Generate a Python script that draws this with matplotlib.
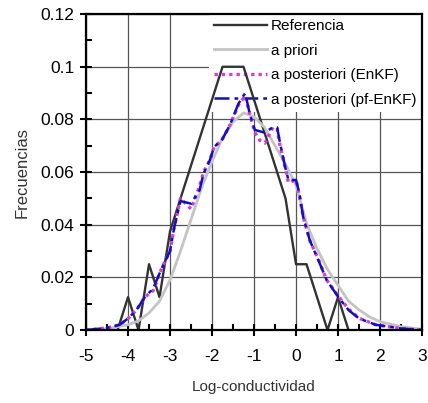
import matplotlib
matplotlib.use("Agg")
from matplotlib import pyplot as plt
from matplotlib.ticker import MultipleLocator

plt.rcParams['font.family'] = ['Liberation Sans', 'DejaVu Sans']
plt.rcParams['axes.unicode_minus'] = False

# datos: referencia (histograma)
x_ref = [-4.25, -4.0, -3.75, -3.5, -3.25, -3.0, -2.75, -2.5, -2.25, -2.0, -1.75, -1.5, -1.25,
         -1.0, -0.75, -0.5, -0.25, 0.0, 0.25, 0.5, 0.75, 1.0, 1.25]
y_ref = [0, 0.0125, 0, 0.025, 0.0125, 0.0375, 0.05, 0.0625, 0.075, 0.0875, 0.1, 0.1, 0.1,
         0.0875, 0.075, 0.0625, 0.05, 0.025, 0.025, 0.0125, 0, 0.0125, 0]

# a priori
x_pri = [-5.0, -4.5, -4.0, -3.75, -3.5, -3.25, -3.0, -2.75, -2.5, -2.25, -2.0, -1.75, -1.5, -1.25,
         -1.0, -0.75, -0.5, -0.25, 0.0, 0.25, 0.5, 0.75, 1.0, 1.25, 1.5, 1.75, 2.0, 2.5, 3.0]
y_pri = [0.0, 0.0005, 0.002, 0.0035, 0.0065, 0.011, 0.019, 0.030, 0.042, 0.054, 0.064, 0.073, 0.079, 0.0825,
         0.081, 0.077, 0.070, 0.063, 0.055, 0.0405, 0.031, 0.023, 0.017, 0.011, 0.0077, 0.005, 0.0032, 0.0013, 0.0003]

# a posteriori (EnKF)
x_enkf = [-5.0, -4.5, -4.2, -4.0, -3.8, -3.6, -3.4, -3.2, -3.0, -2.9, -2.75, -2.5, -2.3, -2.2, -2.05, -1.95,
          -1.77, -1.57, -1.37, -1.21, -1.1, -0.98, -0.86, -0.74, -0.55, -0.45, -0.38, -0.26, -0.18, 0.0, 0.08,
          0.17, 0.33, 0.53, 0.73, 1.0, 1.25, 1.5, 1.9, 2.5, 3.0]
y_enkf = [0, 0.0008, 0.002, 0.0044, 0.0076, 0.0125, 0.015, 0.0234, 0.030, 0.039, 0.050, 0.046, 0.0545, 0.060,
          0.0646, 0.0696, 0.072, 0.078, 0.0855, 0.089, 0.082, 0.075, 0.072, 0.071, 0.077, 0.0765, 0.070, 0.062,
          0.056, 0.057, 0.051, 0.043, 0.034, 0.027, 0.019, 0.013, 0.008, 0.0045, 0.002, 0.0006, 0.0]

# a posteriori (pf-EnKF)
x_pf = [-5.0, -4.5, -4.2, -4.0, -3.8, -3.6, -3.4, -3.2, -3.0, -2.9, -2.75, -2.5, -2.3, -2.2, -2.05, -1.95,
        -1.77, -1.57, -1.37, -1.21, -1.1, -0.98, -0.75, -0.55, -0.45, -0.38, -0.26, -0.18, 0.0, 0.08,
        0.17, 0.33, 0.53, 0.73, 1.0, 1.25, 1.5, 1.9, 2.5, 3.0]
y_pf = [0, 0.0008, 0.002, 0.0044, 0.0076, 0.0125, 0.0158, 0.0234, 0.030, 0.039, 0.049, 0.048, 0.053, 0.0595,
        0.0646, 0.0696, 0.072, 0.078, 0.086, 0.090, 0.082, 0.076, 0.075, 0.077, 0.077, 0.071, 0.062,
        0.057, 0.057, 0.052, 0.043, 0.034, 0.0266, 0.019, 0.0127, 0.0076, 0.0044, 0.002, 0.0006, 0.0]

fig = plt.figure(figsize=(4.28, 4.03), dpi=100)
ax = fig.add_axes([0.201, 0.181, 0.785, 0.784])

ax.plot(x_ref, y_ref, color='#333333', lw=1.7, label='Referencia')
ax.plot(x_pri, y_pri, color='#c4c4c4', lw=2.0, label='a priori')
ax.plot(x_enkf, y_enkf, color='#d040d0', lw=2.4, ls=(0, (1, 1.2)), label='a posteriori (EnKF)')
ax.plot(x_pf, y_pf, color='#1010c0', lw=1.8, ls=(0, (6, 2, 1.5, 2)), label='a posteriori (pf-EnKF)')

ax.set_xlim(-5, 3)
ax.set_ylim(0, 0.12)
ax.set_xticks(range(-5, 4))
ax.set_yticks([0, 0.02, 0.04, 0.06, 0.08, 0.1, 0.12])
ax.set_yticklabels(['0', '0.02', '0.04', '0.06', '0.08', '0.1', '0.12'])
ax.xaxis.set_minor_locator(MultipleLocator(0.5))
ax.yaxis.set_minor_locator(MultipleLocator(0.01))
ax.tick_params(which='major', direction='inout', length=9, width=1.5, labelsize=12.5)
ax.tick_params(axis='x', which='major', pad=9)
ax.tick_params(axis='y', which='major', pad=4)
ax.tick_params(which='minor', direction='in', length=4.5, width=1.5)
ax.grid(True, which='major', color='#555555', lw=0.9)
ax.set_axisbelow(True)
for s in ax.spines.values():
    s.set_linewidth(1.6)

ax.set_xlabel('Log-conductividad', fontsize=11, color='#333333', labelpad=12)
ax.set_ylabel('Frecuencias', fontsize=12, color='#333333', labelpad=8)

leg = ax.legend(loc='upper right', bbox_to_anchor=(1.0, 1.0), frameon=True, fancybox=False,
                edgecolor='none', facecolor='white', framealpha=1, fontsize=11,
                handlelength=3.5, handletextpad=0.25, labelspacing=0.68, borderaxespad=0.0,
                borderpad=0.35)
leg.set_zorder(1)

plt.savefig("out.png")
